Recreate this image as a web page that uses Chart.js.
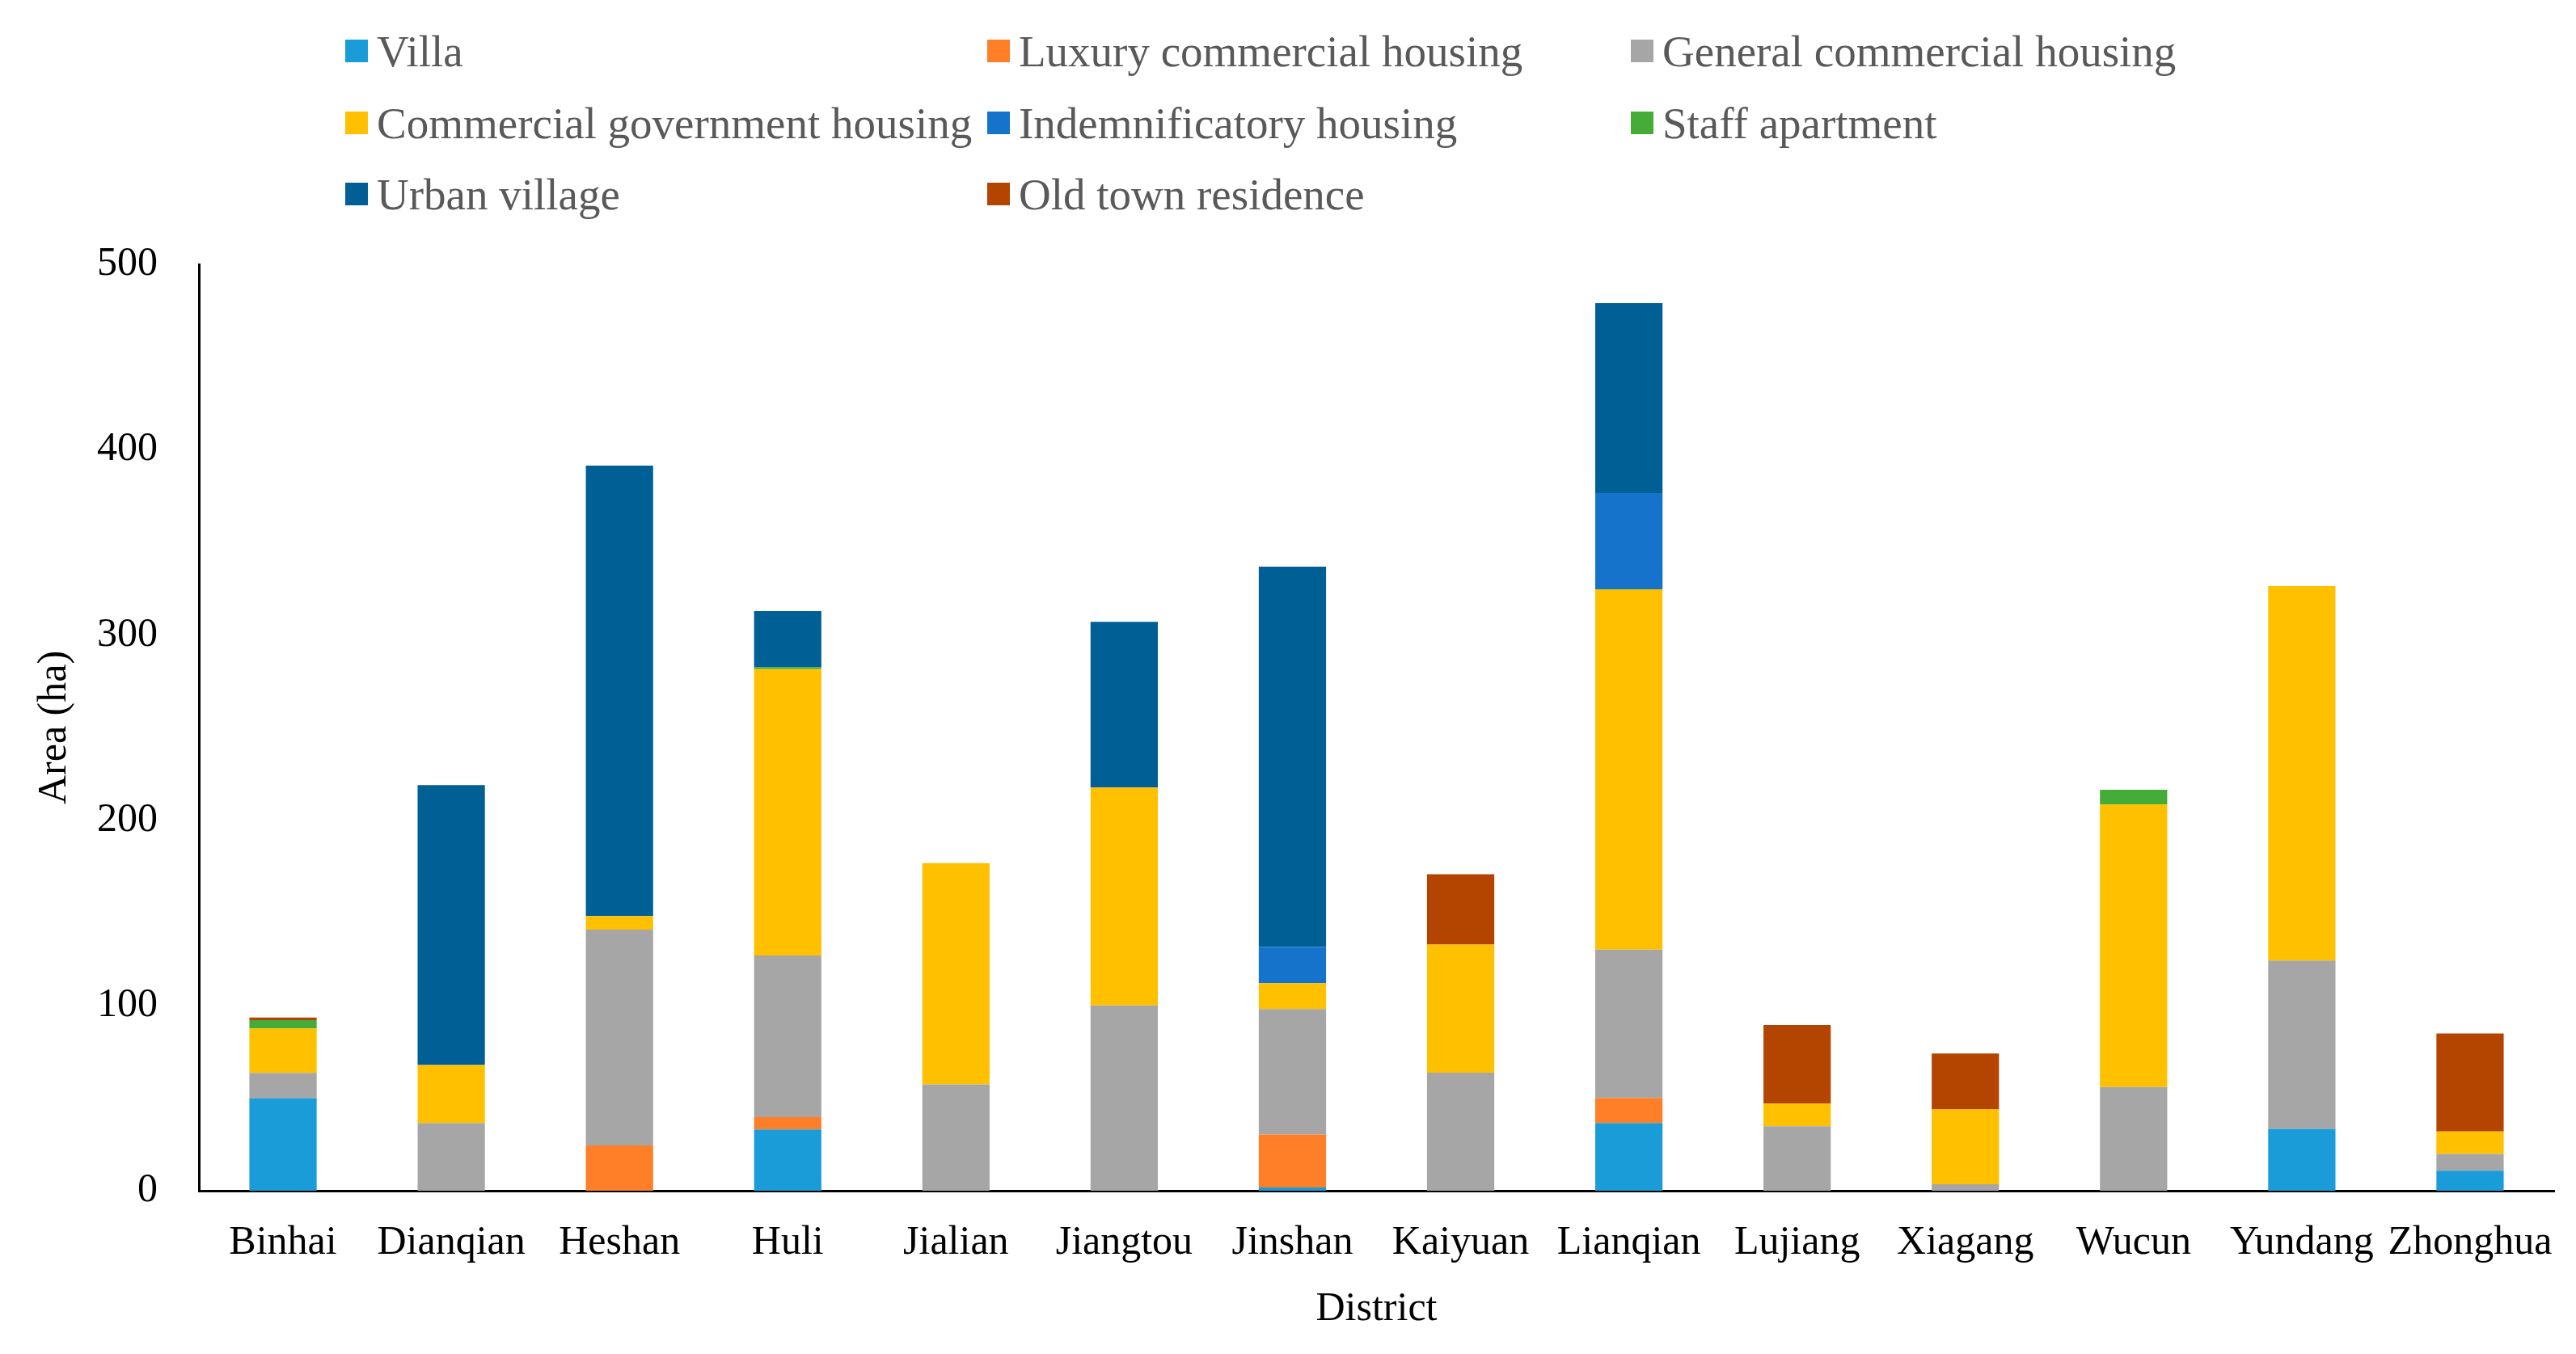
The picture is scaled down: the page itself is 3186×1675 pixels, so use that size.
<!DOCTYPE html>
<html>
<head>
<meta charset="utf-8">
<title>Residential land area by district</title>
<script src="https://cdn.jsdelivr.net/npm/chart.js@4.4.1/dist/chart.umd.min.js"></script>
<style>
  body { margin: 0; background: #fff; }
  #wrap { position: relative; width: 3186px; height: 1675px; }
  #chart { position: absolute; left: 0; top: 0; }
  .legend-item { position: absolute; display: flex; align-items: center; height: 60px;
    font-family: "Liberation Serif", "Times New Roman", serif; font-size: 55px; color: #595959; white-space: nowrap; }
  .legend-box { width: 28px; height: 28px; margin-right: 11px; }
</style>
</head>
<body>
<div id="wrap">
  <canvas id="chart" width="3186" height="1675"></canvas>
  <div id="legend"></div>
</div>
<script>
// districts along the x axis
let districts = ["Binhai", "Dianqian", "Heshan", "Huli", "Jialian", "Jiangtou", "Jinshan",
                 "Kaiyuan", "Lianqian", "Lujiang", "Xiagang", "Wucun", "Yundang", "Zhonghua"];

// area (ha) per housing type, one value per district
let villa         = [50.0, 0, 0, 33.0, 0, 0, 1.7, 0, 36.5, 0, 0, 0, 33.4, 10.8];
let luxury        = [0, 0, 24.4, 6.7, 0, 0, 28.6, 0, 13.6, 0, 0, 0, 0, 0];
let general       = [13.6, 36.5, 116.5, 87.3, 57.4, 100.0, 67.8, 63.7, 80.0, 34.8, 3.5, 56.0, 90.8, 9.0];
let commercialGov = [24.0, 31.3, 7.3, 154.5, 119.4, 117.6, 13.9, 69.2, 194.5, 12.2, 40.3, 152.4, 202.2, 12.2];
let indemnificatory = [0, 0, 0, 0, 0, 0, 19.5, 0, 51.9, 0, 0, 0, 0, 0];
let staff         = [4.5, 0, 0, 1.0, 0, 0, 0, 0, 0, 0, 0, 8.0, 0, 0];
let urbanVillage  = [0, 151.1, 243.2, 30.3, 0, 89.4, 205.3, 0, 102.6, 0, 0, 0, 0, 0];
let oldTown       = [1.4, 0, 0, 0, 0, 0, 0, 37.9, 0, 42.4, 30.3, 0, 0, 52.9];

let yTicks = [0, 100, 200, 300, 400, 500];

let seriesNames = ["Villa", "Luxury commercial housing", "General commercial housing",
                   "Commercial government housing", "Indemnificatory housing", "Staff apartment",
                   "Urban village", "Old town residence"];
let seriesData = [villa, luxury, general, commercialGov, indemnificatory, staff, urbanVillage, oldTown];
let seriesColors = ["#1a9cd8", "#fe7f27", "#a6a6a6", "#ffc000", "#1673cb", "#45ad37", "#005f95", "#b44500"];

let serif = '"Liberation Serif", "Times New Roman", serif';

let datasets = seriesNames.map((name, i) => ({
    label: name,
    data: seriesData[i],
    backgroundColor: seriesColors[i],
    borderWidth: 0,
    barPercentage: 0.4,
    categoryPercentage: 1.0
}));

let ctx = document.getElementById("chart");
let chart = new Chart(ctx, {
    type: 'bar',
    data: { labels: districts, datasets: datasets },
    options: {
        responsive: false,
        devicePixelRatio: 1,
        animation: false,
        layout: { padding: { top: 327, left: 38, right: 27, bottom: 25 } },
        plugins: {
            legend: { display: false },
            tooltip: { enabled: false }
        },
        scales: {
            x: {
                stacked: true,
                grid: { display: false },
                border: { display: true, color: '#000', width: 3 },
                ticks: { color: '#000', font: { family: serif, size: 50 }, padding: 27, maxRotation: 0, autoSkip: false },
                title: { display: true, text: 'District', color: '#000', font: { family: serif, size: 50 }, padding: 0 },
                afterFit: axis => { axis.height = 177; }
            },
            y: {
                stacked: true,
                min: 0,
                max: 500,
                afterBuildTicks: axis => { axis.ticks = yTicks.map(v => ({ value: v })); },
                grid: { display: false },
                border: { display: true, color: '#000', width: 3 },
                ticks: { color: '#000', font: { family: serif, size: 50 }, padding: 43 },
                title: { display: true, text: 'Area (ha)', color: '#000', font: { family: serif, size: 50 }, padding: 0 },
                afterFit: axis => { axis.width = 208; }
            }
        }
    }
});

// legend in three fixed columns, like the original
let legendDiv = document.getElementById("legend");
let colX = [427, 1221, 2017];
let rowY = [63, 152, 240];
chart.data.datasets.forEach((ds, i) => {
    let item = document.createElement("div");
    item.className = "legend-item";
    item.style.left = colX[i % 3] + "px";
    item.style.top = (rowY[Math.floor(i / 3)] - 30) + "px";
    let box = document.createElement("span");
    box.className = "legend-box";
    box.style.backgroundColor = ds.backgroundColor;
    let txt = document.createElement("span");
    txt.textContent = ds.label;
    item.appendChild(box);
    item.appendChild(txt);
    legendDiv.appendChild(item);
});
</script>
</body>
</html>
